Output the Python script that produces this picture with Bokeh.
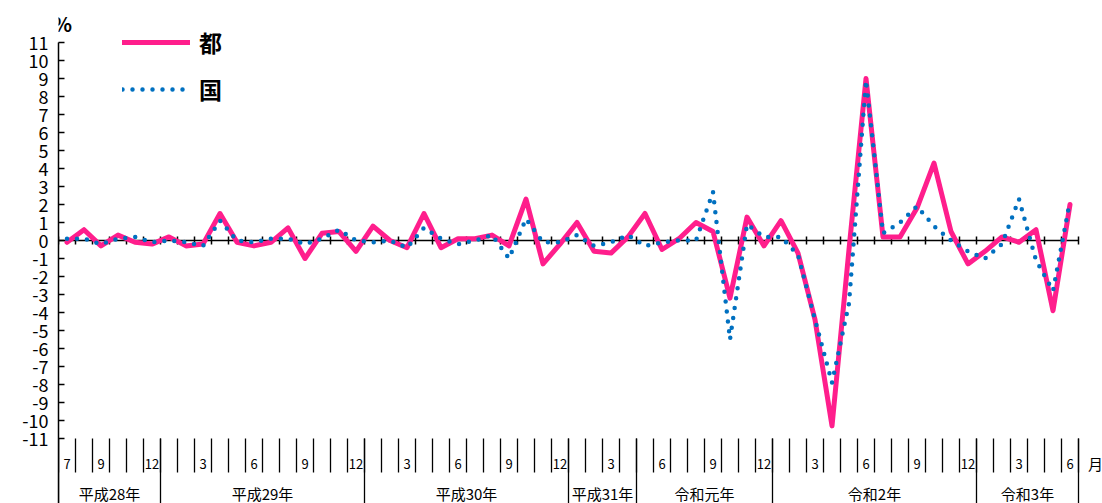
import numpy as np
from bokeh.plotting import figure
from bokeh.models import Range1d, FixedTicker, Legend, LegendItem
from bokeh.core.properties import value
from bokeh.embed import file_html
from bokeh.resources import INLINE

# ---------------- data ----------------
# 都 (Tokyo) and 国 (national), monthly % change, H28.7 .. R3.6
tokyo = [-0.1, 0.6, -0.3, 0.3, -0.1, -0.2,
         0.2, -0.3, -0.2, 1.5, -0.1, -0.3, -0.1, 0.7, -1.0, 0.4, 0.5, -0.6,
         0.8, 0.0, -0.4, 1.5, -0.4, 0.1, 0.1, 0.3, -0.3, 2.3, -1.3, -0.2,
         1.0, -0.6, -0.7, 0.2,
         1.5, -0.5, 0.1, 1.0, 0.5, -3.2, 1.3, -0.3,
         1.1, -0.7, -4.4, -10.3, -0.5, 9.0, 0.2, 0.2, 1.8, 4.3, 0.5, -1.3,
         -0.6, 0.2, -0.1, 0.6, -3.9, 2.0]
national = [0.1, 0.1, -0.2, 0.1, 0.2, -0.1,
            0.0, -0.1, -0.3, 1.1, 0.0, -0.1, 0.1, 0.1, -0.2, 0.1, 0.6, 0.0,
            -0.1, 0.0, -0.4, 0.7, 0.1, -0.2, 0.0, 0.3, -1.0, 1.2, -0.1, -0.1,
            0.3, -0.3, -0.1, 0.3,
            -0.3, -0.1, 0.0, 0.0, 2.7, -5.5, 0.9, 0.2,
            0.2, -0.8, -4.4, -7.9, -3.5, 8.9, 0.4, 1.0, 1.9, 0.8, 0.0, -0.6,
            -1.0, -0.2, 2.3, -1.1, -2.8, 2.2]
month_labels = ["7", "", "9", "", "", "12",
                "", "", "3", "", "", "6", "", "", "9", "", "", "12",
                "", "", "3", "", "", "6", "", "", "9", "", "", "12",
                "", "", "3", "",
                "", "6", "", "", "9", "", "", "12",
                "", "", "3", "", "", "6", "", "", "9", "", "", "12",
                "", "", "3", "", "", "6"]
eras = ["平成28年", "平成29年", "平成30年", "平成31年", "令和元年", "令和2年", "令和3年"]
era_months = [6, 12, 12, 4, 8, 12, 6]
y_ticks = list(range(-11, 12))
series_names = ["都", "国"]

# ---------------- layout (pixels) ----------------
FIG_W, FIG_H = 1102, 503
LEFT = 58
PX_X, PX_Y = 17.0, 18.0
TOP_OF_11 = 42            # px from figure top to the "11" tick
FONT = "Noto Sans CJK JP"
PINK = "#FF1E8C"
BLUE = "#0070C0"

y_top = 11 + TOP_OF_11 / PX_Y
y_bot = y_top - FIG_H / PX_Y
x_end = (FIG_W - LEFT) / PX_X


def ypx(py):  # figure pixel row -> data y
    return y_top - py / PX_Y


def xpx(px):  # figure pixel column -> data x
    return (px - LEFT) / PX_X


n = len(tokyo)
xc = np.arange(n) + 0.5
bounds = np.arange(n + 1)
era_edges = np.concatenate([[0], np.cumsum(era_months)])
era_centers = era_edges[:-1] + np.array(era_months) / 2.0

p = figure(width=FIG_W, height=FIG_H, x_range=Range1d(0, x_end), y_range=Range1d(y_bot, y_top),
           output_backend="svg", toolbar_location=None, title=None, x_axis_type=None,
           min_border_left=LEFT, min_border_right=0, min_border_top=0, min_border_bottom=0)
p.outline_line_color = None
p.grid.visible = False
p.background_fill_color = "white"
p.border_fill_color = "white"

yax = p.yaxis[0]
yax.ticker = FixedTicker(ticks=y_ticks)
yax.bounds = (y_bot, 11)
yax.major_tick_in = 6
yax.major_tick_out = 0
yax.minor_tick_in = 0
yax.minor_tick_out = 0
yax.axis_line_color = "black"
yax.axis_line_width = 1.5
yax.major_tick_line_color = "black"
yax.major_tick_line_width = 1.5
yax.major_label_overrides = {t: str(t) for t in y_ticks}
yax.major_label_text_font = FONT
yax.major_label_text_font_size = "18px"
yax.major_label_text_color = "black"
yax.major_label_standoff = 10

# zero axis with crossing ticks
tick_h = 4 / PX_Y
p.segment(x0=[0], y0=[0], x1=[n], y1=[0], line_color="black", line_width=1.5)
p.segment(x0=bounds, y0=-tick_h, x1=bounds, y1=tick_h, line_color="black", line_width=1.5)

# bottom category axis: month separators, year separators, labels
p.segment(x0=bounds, y0=-11, x1=bounds, y1=ypx(472), line_color="black", line_width=1.3)
p.segment(x0=era_edges, y0=-11, x1=era_edges, y1=y_bot, line_color="black", line_width=1.3)
p.text(x=xc, y=ypx(463), text=month_labels, text_align="center", text_baseline="middle",
       text_font=value(FONT), text_font_size="13px", text_color="black")
p.text(x=era_centers, y=ypx(493), text=eras, text_align="center", text_baseline="middle",
       text_font=value(FONT), text_font_size="15px", text_color="black")
p.text(x=[xpx(1095)], y=[ypx(463)], text=["月"], text_align="center", text_baseline="middle",
       text_font=value(FONT), text_font_size="15px", text_color="black")
p.text(x=[xpx(62)], y=[ypx(23)], text=["%"], text_align="center", text_baseline="middle",
       text_font=value(FONT), text_font_size="20px", text_font_style="bold", text_color="black")

# series
r_t = p.line(xc, tokyo, line_color=PINK, line_width=5, line_join="round", line_cap="round")
r_n = p.line(xc, national, line_color=BLUE, line_width=4.5, line_dash="0 10",
             line_cap="round", line_join="round")

legend = Legend(items=[LegendItem(label=series_names[0], renderers=[r_t]),
                       LegendItem(label=series_names[1], renderers=[r_n])],
                location=(122 - LEFT, FIG_H - 109), glyph_width=68, glyph_height=40, spacing=7,
                padding=0, margin=0, label_standoff=9, border_line_color=None,
                background_fill_alpha=0, label_text_font=FONT, label_text_font_size="23px",
                label_text_font_style="bold", label_text_color="black")
p.add_layout(legend)

open("out.html", "w").write(file_html(p, INLINE))
